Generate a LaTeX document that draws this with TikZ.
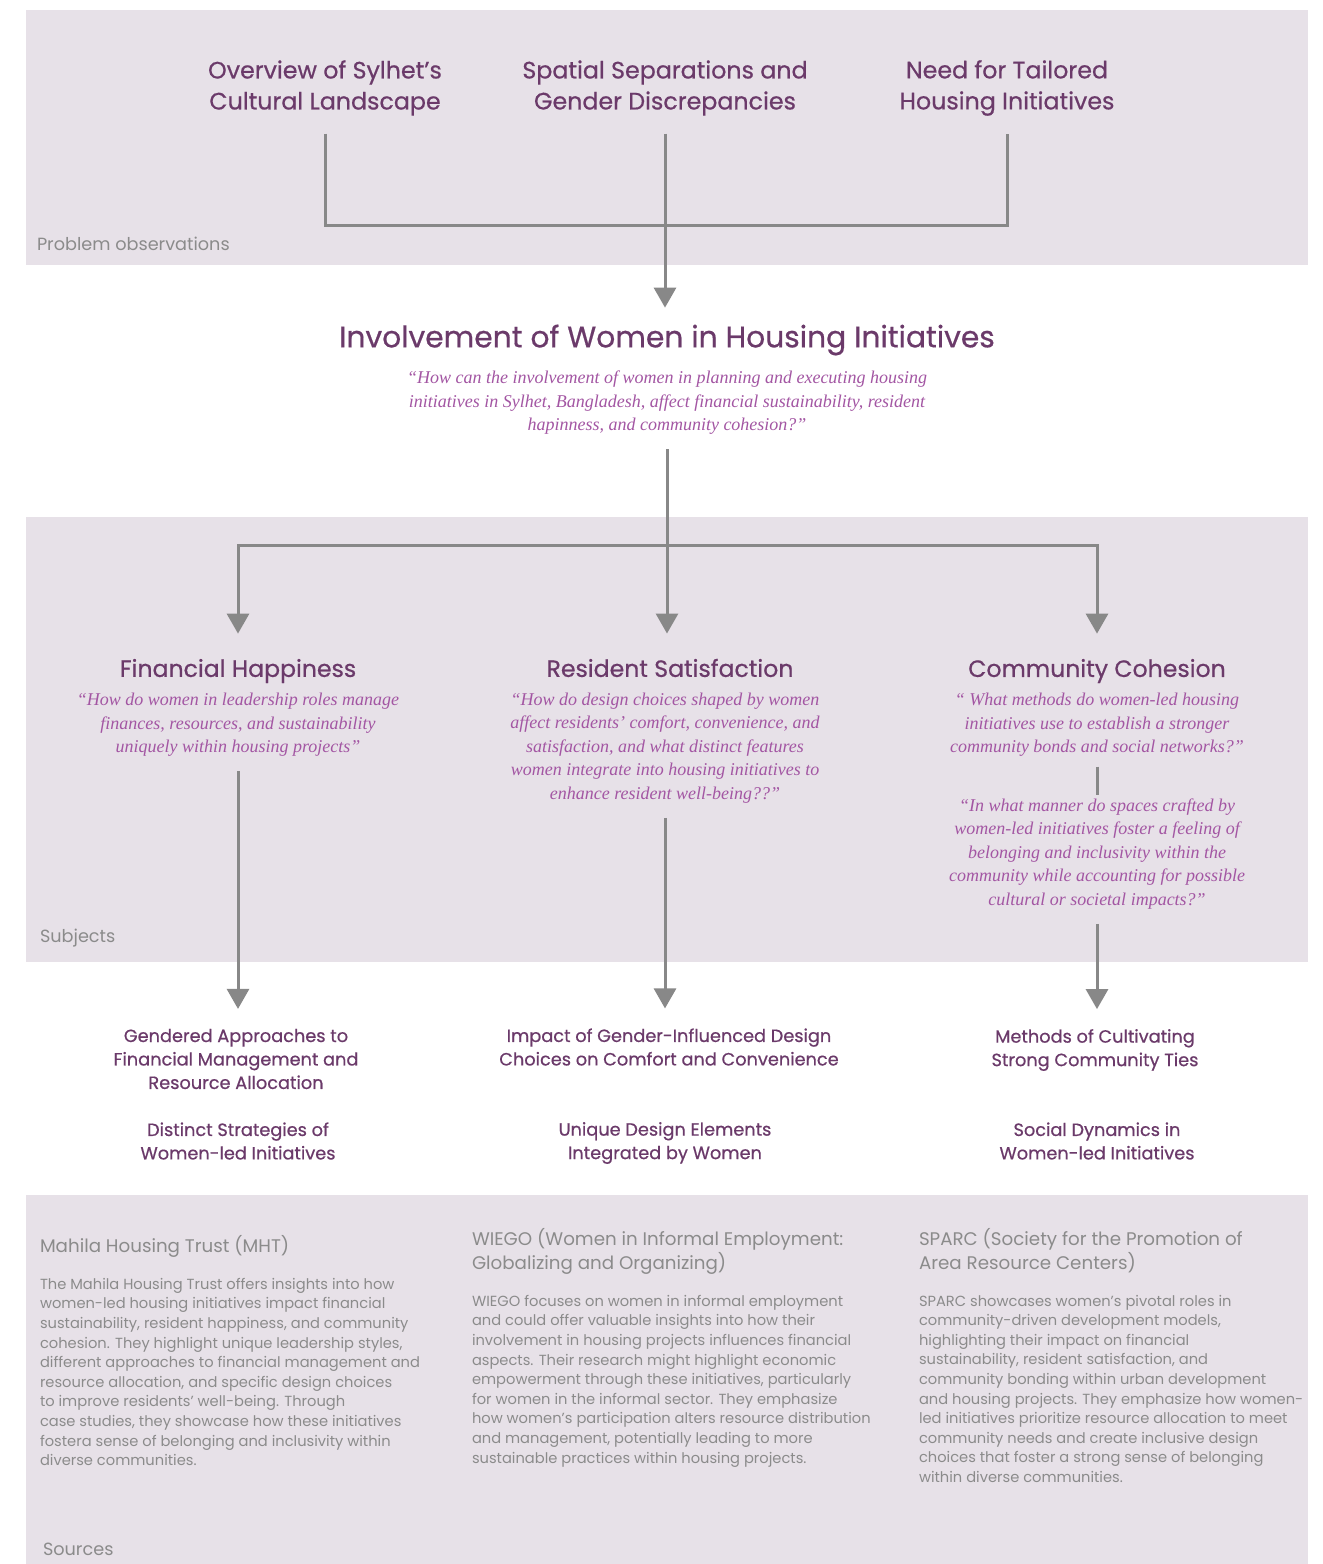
\documentclass[tikz,border=0pt]{standalone}
\usepackage{fontspec}
\newfontfamily\sfont{Poppins}
\newfontfamily\sfontb[FakeBold=0.6]{Poppins}
\newfontfamily\qfont{Liberation Serif}
\usetikzlibrary{arrows.meta}
\definecolor{bandc}{HTML}{E7E1E8}
\definecolor{headc}{HTML}{6B3A6A}
\definecolor{quotec}{HTML}{A356A3}
\definecolor{grayc}{HTML}{8B8B8B}
\definecolor{linec}{HTML}{888888}
\begin{document}
\begin{tikzpicture}[x=0.75pt,y=-0.75pt,
  every node/.style={inner sep=0pt, outer sep=0pt},
  head/.style={font=\sfontb\fontsize{17.8}{23.25}\selectfont, text=headc, align=center},
  titlest/.style={font=\sfontb\fontsize{22.3}{26}\selectfont, text=headc, align=center},
  subj/.style={font=\sfontb\fontsize{17.7}{22}\selectfont, text=headc, align=center},
  quote/.style={font=\qfont\itshape\fontsize{13.5}{17.6}\selectfont, text=quotec, align=center},
  leaf/.style={font=\sfontb\fontsize{13.3}{17.6}\selectfont, text=headc, align=center},
  lab/.style={font=\sfont\fontsize{13.25}{15}\selectfont, text=grayc, anchor=west},
  srct/.style={font=\sfont\fontsize{13.7}{18}\selectfont, text=grayc, align=left, anchor=north west},
  body/.style={font=\sfont\fontsize{11}{14.7}\selectfont, text=grayc, align=left, anchor=north west},
  conn/.style={draw=linec, line width=2.25pt},
  arr/.style={conn, -{Triangle[width=16.5pt,length=15pt]}}
]
\fill[white] (0,0) rectangle (1323,1564);
\useasboundingbox (0,0) rectangle (1323,1564);
% bands
\fill[bandc] (26,10) rectangle (1308,265);
\fill[bandc] (26,517) rectangle (1308,962);
\fill[bandc] (26,1195) rectangle (1308,1564);

% problem observations
\node[head] (o1) at (325,88) {Overview of Sylhet’s\\Cultural Landscape};
\node[head] (o2) at (665,88) {Spatial Separations and\\Gender Discrepancies};
\node[head] (o3) at (1007,88) {Need for Tailored\\Housing Initiatives};
\node[lab] (l1) at (37,244) {Problem observations};

% main question
\node[titlest] (t) at (667,340) {Involvement of Women in Housing Initiatives};
\node[quote] (tq) at (667,403) {“How can the involvement of women in planning and executing housing\\initiatives in Sylhet, Bangladesh, affect financial sustainability, resident\\hapinness, and community cohesion?”};

% subjects
\node[subj] (s1) at (238,671) {Financial Happiness};
\node[quote] (q1) at (238,725) {“How do women in leadership roles manage\\finances, resources, and sustainability\\uniquely within housing projects”};
\node[subj] (s2) at (670,668) {Resident Satisfaction};
\node[quote] (q2) at (665,748) {“How do design choices shaped by women\\affect residents’ comfort, convenience, and\\satisfaction, and what distinct features\\women integrate into housing initiatives to\\enhance resident well-being??”};
\node[subj] (s3) at (1097,671) {Community Cohesion};
\node[quote] (q3a) at (1097,725) {“ What methods do women-led housing\\initiatives use to establish a stronger\\community bonds and social networks?”};
\node[quote] (q3b) at (1097,854) {“In what manner do spaces crafted by\\women-led initiatives foster a feeling of\\belonging and inclusivity within the\\community while accounting for possible\\cultural or societal impacts?”};
\node[lab] (l2) at (40,938) {Subjects};

% leaves
\node[leaf] (a1) at (236,1059) {Gendered Approaches to\\Financial Management and\\Resource Allocation};
\node[leaf] (a2) at (238,1141) {Distinct Strategies of\\Women-led Initiatives};
\node[leaf] (b1) at (669,1047) {Impact of Gender-Influenced Design\\Choices on Comfort and Convenience};
\node[leaf] (b2) at (665,1143) {Unique Design Elements\\Integrated by Women};
\node[leaf] (c1) at (1095,1050) {Methods of Cultivating\\Strong Community Ties};
\node[leaf] (c2) at (1097,1141) {Social Dynamics in\\Women-led Initiatives};

% sources
\node[srct] (m1) at (40,1235) {Mahila Housing Trust (MHT)};
\node[body] (m2) at (40,1278) {The Mahila Housing Trust offers insights into how\\women-led housing initiatives impact financial\\sustainability, resident happiness, and community\\cohesion. They highlight unique leadership styles,\\different approaches to financial management and\\resource allocation, and specific design choices\\to improve residents’ well-being. Through\\case studies, they showcase how these initiatives\\fostera sense of belonging and inclusivity within\\diverse communities.};
\node[srct] (w1) at (472,1228) {WIEGO (Women in Informal Employment:\\Globalizing and Organizing)};
\node[body] (w2) at (472,1295) {WIEGO focuses on women in informal employment\\and could offer valuable insights into how their\\involvement in housing projects influences financial\\aspects. Their research might highlight economic\\empowerment through these initiatives, particularly\\for women in the informal sector. They emphasize\\how women’s participation alters resource distribution\\and management, potentially leading to more\\sustainable practices within housing projects.};
\node[srct] (p1) at (919,1228) {SPARC (Society for the Promotion of\\Area Resource Centers)};
\node[body] (p2) at (919,1295) {SPARC showcases women’s pivotal roles in\\community-driven development models,\\highlighting their impact on financial\\sustainability, resident satisfaction, and\\community bonding within urban development\\and housing projects. They emphasize how women-\\led initiatives prioritize resource allocation to meet\\community needs and create inclusive design\\choices that foster a strong sense of belonging\\within diverse communities.};
\node[lab] (l3) at (43,1549) {Sources};

% connectors
\coordinate (bus1) at (665,225);
\coordinate (bus2) at (667,545);
\draw[conn] ([yshift=-13.5pt]o1.south) -- (o1.south |- bus1) -- (o3.south |- bus1) -- ([yshift=-13.5pt]o3.south);
\draw[arr] ([yshift=-13.5pt]o2.south) -- ([yshift=12.75pt]t.north -| o2.south);
\draw[arr] ([yshift=-11pt]tq.south) -- ([yshift=19pt]s2.north -| tq.south);
\draw[arr] (bus2) -| ([yshift=19pt]s1.north);
\draw[arr] (bus2) -| ([yshift=19pt]s3.north);
\draw[arr] ([yshift=-11pt]q1.south) -- ([yshift=15pt]a1.north -| q1.south);
\draw[arr] ([yshift=-11pt]q2.south) -- ([yshift=15pt]b1.north -| q2.south);
\draw[conn] ([yshift=-7.5pt]q3a.south) -- ([yshift=3pt]q3b.north);
\draw[arr] ([yshift=-11pt]q3b.south) -- ([yshift=15pt]c1.north -| q3b.south);
\end{tikzpicture}
\end{document}
